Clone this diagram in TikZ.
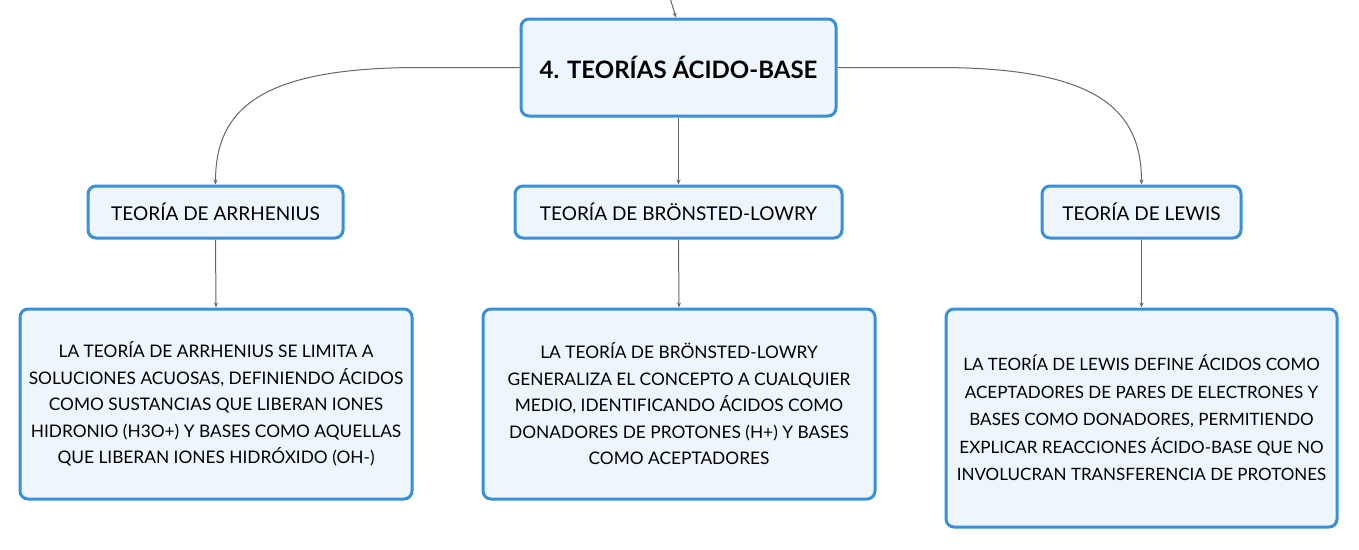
\documentclass[tikz,border=0pt]{standalone}
\usepackage{fontspec}
\setmainfont{Lato}
\usetikzlibrary{arrows.meta}
\definecolor{boxblue}{HTML}{3A8FD9}
\definecolor{boxfill}{HTML}{EEF6FD}
\definecolor{linegray}{HTML}{666666}

\begin{document}
\begin{tikzpicture}[x=1pt,y=-1pt,
    box/.style={draw=boxblue, fill=boxfill, line width=3pt, rounded corners=8pt, inner sep=0pt, align=center},
    link/.style={draw=linegray, line width=1pt, -{Stealth[length=5pt,width=4pt]}}]
            \useasboundingbox (0,0) rectangle (1359,549);
            \coordinate (top) at (670,-2);

            \node[box, minimum width=315pt, minimum height=97pt, font=\fontsize{24}{28}\selectfont\bfseries] (root) at (678.5,67.5) {4. TEORÍAS ÁCIDO-BASE};

            \node[box, minimum width=255pt, minimum height=52pt, font=\fontsize{19}{24}\selectfont] (arr) at (215.5,212) {TEORÍA DE ARRHENIUS};
            \node[box, minimum width=327pt, minimum height=52pt, font=\fontsize{19}{24}\selectfont] (bro) at (678.5,212) {TEORÍA DE BRÖNSTED-LOWRY};
            \node[box, minimum width=199pt, minimum height=52pt, font=\fontsize{19}{24}\selectfont] (lew) at (1141.5,212) {TEORÍA DE LEWIS};

            \node[box, minimum width=392pt, minimum height=190pt, font=\fontsize{17.3}{26.5}\selectfont] (arrtxt) at (216,404) {LA TEORÍA DE ARRHENIUS SE LIMITA A\\SOLUCIONES ACUOSAS, DEFINIENDO ÁCIDOS\\COMO SUSTANCIAS QUE LIBERAN IONES\\HIDRONIO (H3O+) Y BASES COMO AQUELLAS\\QUE LIBERAN IONES HIDRÓXIDO (OH-)};
            \node[box, minimum width=392pt, minimum height=190pt, font=\fontsize{17.3}{26.5}\selectfont] (brotxt) at (679,404) {LA TEORÍA DE BRÖNSTED-LOWRY\\GENERALIZA EL CONCEPTO A CUALQUIER\\MEDIO, IDENTIFICANDO ÁCIDOS COMO\\DONADORES DE PROTONES (H+) Y BASES\\COMO ACEPTADORES};
            \node[box, minimum width=391pt, minimum height=218pt, font=\fontsize{17}{27.5}\selectfont] (lewtxt) at (1141.5,418) {LA TEORÍA DE LEWIS DEFINE ÁCIDOS COMO\\ACEPTADORES DE PARES DE ELECTRONES Y\\BASES COMO DONADORES, PERMITIENDO\\EXPLICAR REACCIONES ÁCIDO-BASE QUE NO\\INVOLUCRAN TRANSFERENCIA DE PROTONES};

            \draw[link] (top) -- (root.north -| 676,0);
            \draw[link] (root.west) -- ++(-100,0) .. controls +(-160,0) and +(0,-75) .. (arr.north);
            \draw[link] (root.south) -- (bro.north);
            \draw[link] (root.east) -- ++(100,0) .. controls +(160,0) and +(0,-75) .. (lew.north);

            \draw[link] (arr.south) -- (arrtxt.north);
            \draw[link] (bro.south) -- (brotxt.north);
            \draw[link] (lew.south) -- (lewtxt.north);
        \end{tikzpicture}
\end{document}
